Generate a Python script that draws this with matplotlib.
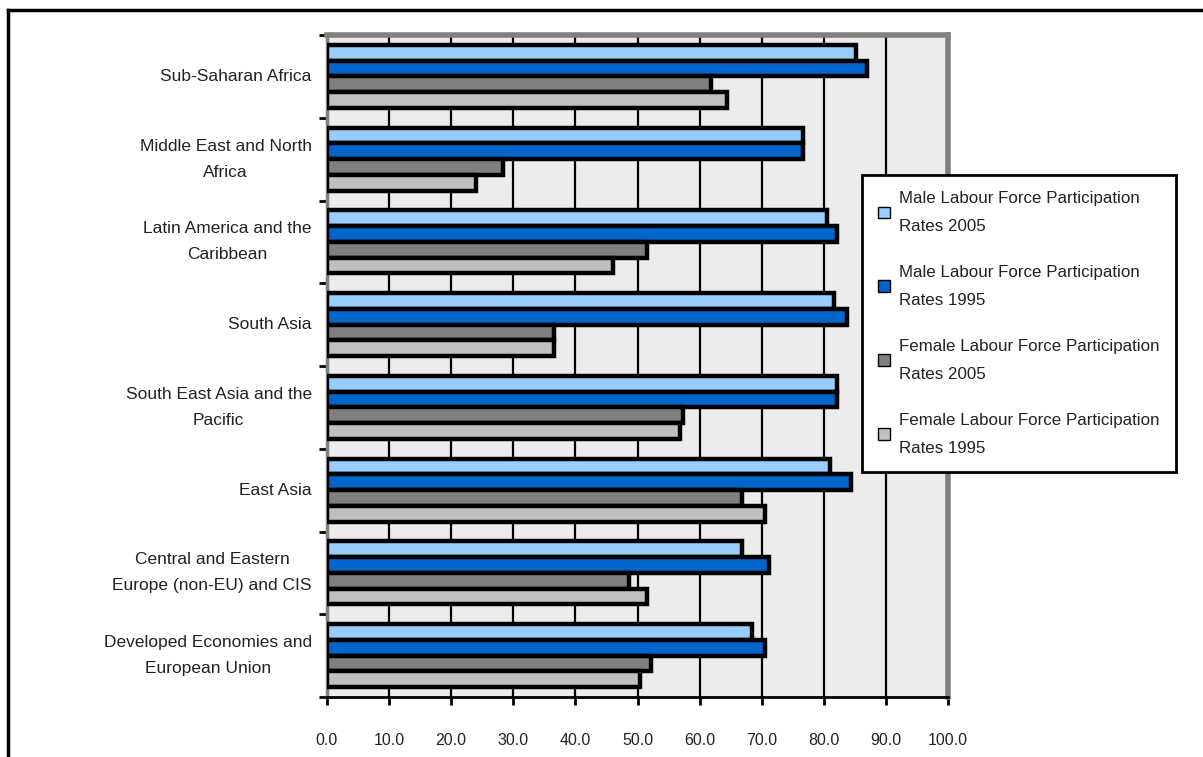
import numpy as np
import matplotlib
matplotlib.use("Agg")
import matplotlib.pyplot as plt
from matplotlib.lines import Line2D

plt.rcParams['font.family'] = ['Liberation Sans', 'DejaVu Sans']

regions = ["Sub-Saharan Africa",
           "Middle East and North\nAfrica",
           "Latin America and the\nCaribbean",
           "South Asia",
           "South East Asia and the\nPacific",
           "East Asia",
           "Central and Eastern\nEurope (non-EU) and CIS",
           "Developed Economies and\nEuropean Union"]

male_2005 = [85.2, 76.6, 80.5, 81.6, 82.1, 81.0, 66.8, 68.5]
male_1995 = [86.9, 76.6, 82.1, 83.7, 82.1, 84.4, 71.2, 70.6]
female_2005 = [61.8, 28.4, 51.5, 36.6, 57.4, 66.8, 48.7, 52.1]
female_1995 = [64.4, 24.0, 46.0, 36.6, 56.9, 70.6, 51.5, 50.4]

series = [male_2005, male_1995, female_2005, female_1995]
labels = ["Male Labour Force Participation\nRates 2005",
          "Male Labour Force Participation\nRates 1995",
          "Female Labour Force Participation\nRates 2005",
          "Female Labour Force Participation\nRates 1995"]
colors = ["#99CCFF", "#0066CC", "#808080", "#C0C0C0"]

xticks = np.arange(0, 101, 10)

W, H = 1203, 757
fig = plt.figure(figsize=(W / 100, H / 100), dpi=100)
ax = fig.add_axes([327 / W, 1 - 697 / H, (948 - 327) / W, (697 - 35) / H])
ax.set_facecolor("#ECECEC")

y = np.arange(len(regions))
h = 0.19
handles = []
for k, (vals, col, lab) in enumerate(zip(series, colors, labels)):
    b = ax.barh(y + (k - 1.5) * h, vals, height=h, color=col,
                edgecolor="black", linewidth=3.2, zorder=3, label=lab)
    handles.append(b)

ax.set_xlim(0, 100)
ax.set_ylim(len(regions) - 0.5, -0.5)

ax.set_xticks(xticks)
ax.set_xticklabels(["%.1f" % v for v in xticks])
ax.set_yticks(y)
ax.set_yticklabels(regions, multialignment="center", linespacing=1.9, va="center")
ax.set_yticks(np.arange(-0.5, len(regions)), minor=True)

ax.tick_params(axis="y", which="major", length=0, pad=11, labelsize=12.5, labelcolor="#222222")
ax.tick_params(axis="y", which="minor", length=6, width=2, color="black", direction="out")
ax.tick_params(axis="x", length=6, width=2, color="black", direction="out",
               pad=20, labelsize=11.5, labelcolor="#222222")

for gx in xticks[1:-1]:
    ax.axvline(gx, color="black", linewidth=1.6, zorder=1)

ax.spines["left"].set_color("#808080")
ax.spines["left"].set_linewidth(2.5)
ax.spines["bottom"].set_color("black")
ax.spines["bottom"].set_linewidth(2)
ax.spines["top"].set_color("#808080")
ax.spines["top"].set_linewidth(4)
ax.spines["right"].set_color("#808080")
ax.spines["right"].set_linewidth(4)

leg = fig.legend(handles=handles, labels=labels, loc="upper left",
                 bbox_to_anchor=(862 / W, 1 - 175 / H), borderaxespad=0, fontsize=12.2,
                 frameon=True, fancybox=False, framealpha=1,
                 edgecolor="black", handlelength=0.7, handleheight=0.7,
                 handletextpad=0.55, labelspacing=1.85, borderpad=0.95)
leg.get_frame().set_linewidth(2)
for t in leg.get_texts():
    t.set_linespacing(2.05)
    t.set_color("#222222")
for p in leg.get_patches():
    p.set_linewidth(1)

# outer frame (left and top only visible)
fig.add_artist(Line2D([8 / W, 8 / W], [0, 1 - 10 / H], color="black", linewidth=2.5,
                      transform=fig.transFigure))
fig.add_artist(Line2D([8 / W, 1], [1 - 10 / H, 1 - 10 / H], color="black", linewidth=2.5,
                      transform=fig.transFigure))

fig.savefig("out.png", dpi=100)
